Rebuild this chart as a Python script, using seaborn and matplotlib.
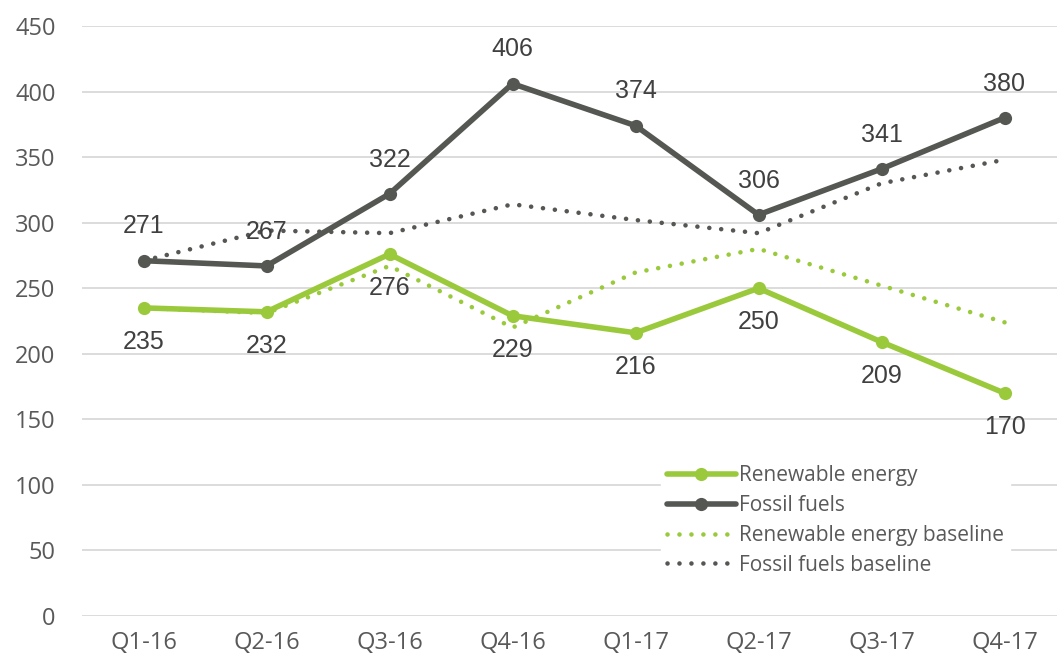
import matplotlib
matplotlib.use("Agg")
import matplotlib.pyplot as plt
import seaborn as sns
import pandas as pd

quarters = ["Q1-16", "Q2-16", "Q3-16", "Q4-16", "Q1-17", "Q2-17", "Q3-17", "Q4-17"]
renewable = [235, 232, 276, 229, 216, 250, 209, 170]
fossil = [271, 267, 322, 406, 374, 306, 341, 380]
renewable_base = [235, 231, 267, 220, 262, 280, 252, 224]
fossil_base = [271, 294, 292, 314, 302, 292, 330, 348]
y_ticks = [0, 50, 100, 150, 200, 250, 300, 350, 400, 450]
series_names = ["Renewable energy", "Fossil fuels",
                "Renewable energy baseline", "Fossil fuels baseline"]

green = "#9ACA3C"
grey = "#555753"
text_col = "#404040"
tick_col = "#595959"

sns.set_theme(style="white")
plt.rcParams['font.family'] = ['Open Sans', 'DejaVu Sans']

fig = plt.figure(figsize=(10.57, 6.61), dpi=100)
ax = fig.add_axes([82 / 1057, 45 / 661, (1066 - 82) / 1057, (616 - 26) / 661])

df = pd.DataFrame({"quarter": quarters, "renewable": renewable, "fossil": fossil,
                   "renewable_base": renewable_base, "fossil_base": fossil_base})

sns.lineplot(data=df, x="quarter", y="renewable", ax=ax, color=green, lw=4,
             marker="o", markersize=9.5, markeredgewidth=0, legend=False, zorder=4)
sns.lineplot(data=df, x="quarter", y="fossil", ax=ax, color=grey, lw=4,
             marker="o", markersize=9.5, markeredgewidth=0, legend=False, zorder=4)
sns.lineplot(data=df, x="quarter", y="renewable_base", ax=ax, color=green, lw=3.3,
             legend=False, zorder=3)
sns.lineplot(data=df, x="quarter", y="fossil_base", ax=ax, color=grey, lw=3.3,
             legend=False, zorder=3)
lines = ax.lines[:4]
for line in lines[2:]:
    line.set_linestyle((0, (0.01, 2.6)))
    line.set_dash_capstyle("round")

for i, v in enumerate(fossil):
    ax.annotate(str(v), (i, v), xytext=(0, 16), textcoords="offset points",
                ha="center", va="bottom", fontsize=18, color=text_col,
                family=["Liberation Sans"], zorder=6)
for i, v in enumerate(renewable):
    ax.annotate(str(v), (i, v), xytext=(0, -16), textcoords="offset points",
                ha="center", va="top", fontsize=18, color=text_col,
                family=["Liberation Sans"], zorder=6)

ax.set_xlim(-0.5, 7.5)
ax.set_ylim(0, 450)
ax.set_yticks(y_ticks)
ax.yaxis.grid(True, color="#D9D9D9", lw=1.3)
ax.xaxis.grid(False)
for s in ax.spines.values():
    s.set_visible(False)
ax.set_xlabel("")
ax.set_ylabel("")
ax.tick_params(axis="both", length=0, labelsize=17, labelcolor=tick_col)
ax.tick_params(axis="x", pad=11)
ax.tick_params(axis="y", pad=19)

leg = ax.legend(handles=lines, labels=series_names, loc="lower right",
                bbox_to_anchor=(1010 / 1057, 79 / 661),
                bbox_transform=fig.transFigure, frameon=True, fontsize=15,
                handlelength=3.3, handletextpad=0.15, labelspacing=0.42,
                borderpad=0.3, borderaxespad=0)
leg.get_frame().set_facecolor("white")
leg.get_frame().set_edgecolor("white")
leg.get_frame().set_alpha(1)
leg.set_zorder(5)
for t in leg.get_texts():
    t.set_color(tick_col)

fig.savefig("out.png", dpi=100)
